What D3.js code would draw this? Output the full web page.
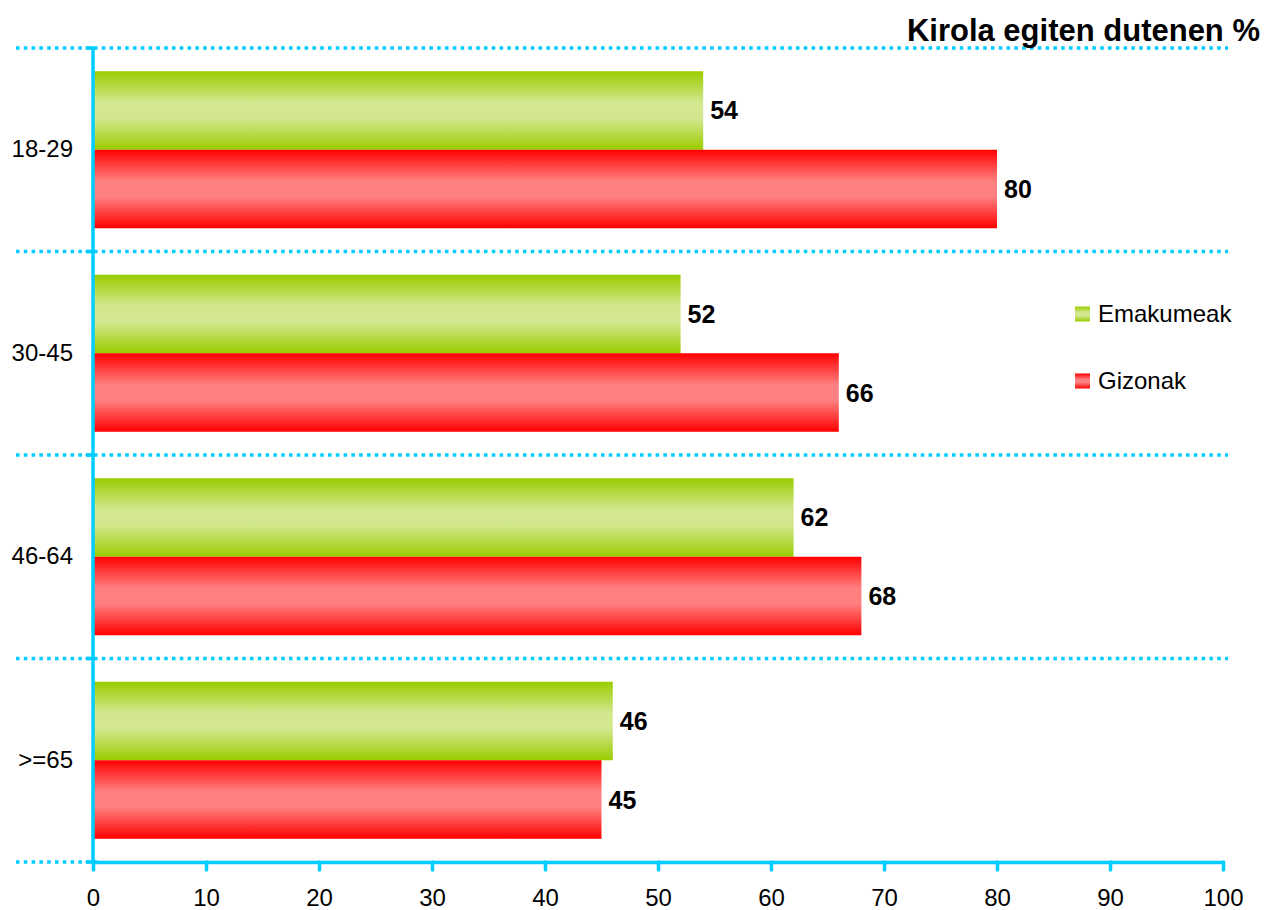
<!DOCTYPE html>
<html>
<head>
<meta charset="utf-8">
<script src="https://cdn.jsdelivr.net/npm/d3@7"></script>
<style>
  html, body { margin: 0; padding: 0; background: #fff; }
  svg { display: block; font-family: "Liberation Sans", Arial, sans-serif; }
</style>
</head>
<body>
<svg id="chart" width="1265" height="910"></svg>
<script>
const categories = ["18-29", "30-45", "46-64", ">=65"];
const seriesNames = ["Emakumeak", "Gizonak"];
const emakumeak = [54, 52, 62, 46];
const gizonak = [80, 66, 68, 45];
const xTicks = [0, 10, 20, 30, 40, 50, 60, 70, 80, 90, 100];
const titleText = "Kirola egiten dutenen %";

const svg = d3.select("#chart");
const cyan = "#00CCFF";

const x = d3.scaleLinear().domain([0, 100]).range([93, 1223]);
const y = d3.scaleBand().domain(categories).range([48, 862]).padding(0);
const ySub = d3.scaleBand().domain(seriesNames).range([0, y.bandwidth()])
  .paddingInner(0).paddingOuter(0.296);

// gradients
const defs = svg.append("defs");
function grad(id, edge, mid) {
  const g = defs.append("linearGradient").attr("id", id)
    .attr("x1", 0).attr("y1", 0).attr("x2", 0).attr("y2", 1);
  g.append("stop").attr("offset", "0%").attr("stop-color", edge);
  g.append("stop").attr("offset", "40%").attr("stop-color", mid);
  g.append("stop").attr("offset", "60%").attr("stop-color", mid);
  g.append("stop").attr("offset", "100%").attr("stop-color", edge);
}
grad("gGreen", "#99CC00", "#D3E88E");
grad("gRed", "#FF0000", "#FF8080");
const fills = { "Emakumeak": "url(#gGreen)", "Gizonak": "url(#gRed)" };

// dotted gridlines at category boundaries
const boundaries = categories.map(c => y(c)).concat([y.range()[1]]);
svg.append("g").selectAll("line").data(boundaries).join("line")
  .attr("x1", 16).attr("x2", (d, i) => i === boundaries.length - 1 ? 100 : 1228)
  .attr("y1", d => d).attr("y2", d => d)
  .attr("stroke", cyan).attr("stroke-width", 3.5)
  .attr("stroke-dasharray", "3.5,4.3");

// bars
const rows = [];
categories.forEach((c, i) => {
  rows.push({ cat: c, s: "Emakumeak", v: emakumeak[i] });
  rows.push({ cat: c, s: "Gizonak", v: gizonak[i] });
});
svg.append("g").selectAll("rect").data(rows).join("rect")
  .attr("x", x(0))
  .attr("y", d => y(d.cat) + ySub(d.s))
  .attr("width", d => x(d.v) - x(0))
  .attr("height", ySub.bandwidth())
  .attr("fill", d => fills[d.s]);

// value labels
svg.append("g").selectAll("text").data(rows).join("text")
  .attr("x", d => x(d.v) + 7)
  .attr("y", d => y(d.cat) + ySub(d.s) + ySub.bandwidth() / 2)
  .attr("dy", "0.36em")
  .attr("font-size", 25).attr("font-weight", "bold").attr("fill", "#000")
  .text(d => d.v);

// x axis
const xAxis = svg.append("g").attr("transform", `translate(0,862)`)
  .call(d3.axisBottom(x).tickValues(xTicks).tickSize(8).tickPadding(19).tickSizeOuter(0));
xAxis.select(".domain").attr("stroke", cyan).attr("stroke-width", 3.5);
xAxis.selectAll(".tick line").attr("stroke", cyan).attr("stroke-width", 3.5).attr("stroke-linecap", "round");
xAxis.selectAll(".tick text").attr("font-size", 24).attr("fill", "#000")
  .attr("font-family", "'Liberation Sans', Arial, sans-serif");

// y axis line + small ticks at boundaries
svg.append("line").attr("x1", x(0)).attr("x2", x(0)).attr("y1", 48).attr("y2", 862)
  .attr("stroke", cyan).attr("stroke-width", 3.5);
svg.append("g").selectAll("line").data(boundaries).join("line")
  .attr("x1", x(0) - 6).attr("x2", x(0)).attr("y1", d => d).attr("y2", d => d)
  .attr("stroke", cyan).attr("stroke-width", 3.5).attr("stroke-linecap", "round");

// category labels
const yAxis = svg.append("g").attr("transform", `translate(${x(0)},0)`)
  .call(d3.axisLeft(y).tickSize(0).tickPadding(20));
yAxis.select(".domain").remove();
yAxis.selectAll(".tick text").attr("font-size", 24).attr("fill", "#000")
  .attr("font-family", "'Liberation Sans', Arial, sans-serif");

// legend
const legend = svg.append("g");
const legY = [314, 381];
seriesNames.forEach((s, i) => {
  legend.append("rect").attr("x", 1075).attr("y", legY[i] - 7.5)
    .attr("width", 15).attr("height", 15).attr("fill", fills[s]);
  legend.append("text").attr("x", 1098).attr("y", legY[i]).attr("dy", "0.35em")
    .attr("font-size", 24).attr("fill", "#000").text(s);
});

// title
svg.append("text").attr("x", 1260).attr("y", 41).attr("text-anchor", "end")
  .attr("font-size", 31).attr("font-weight", "bold").attr("fill", "#000")
  .text(titleText);
</script>
</body>
</html>
